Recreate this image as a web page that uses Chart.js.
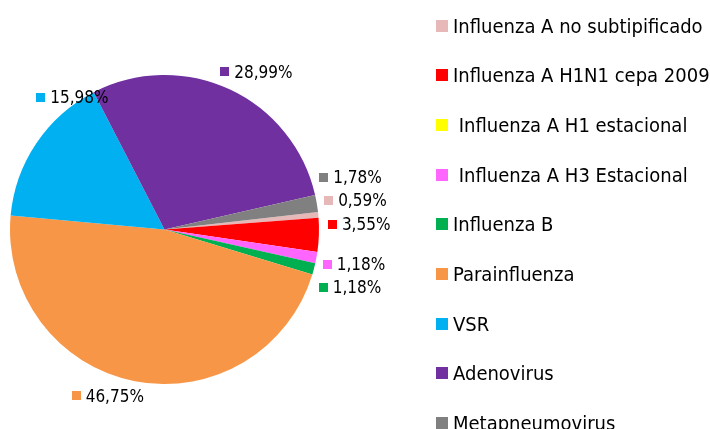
<!DOCTYPE html>
<html>
<head>
<meta charset="utf-8">
<script src="https://cdn.jsdelivr.net/npm/chart.js@4.4.1/dist/chart.umd.min.js"></script>
<style>
    html, body { margin: 0; padding: 0; background: #fff; }
    #wrap { width: 710px; height: 429px; }
</style>
</head>
<body>
<div id="wrap"><canvas id="pie" width="710" height="429"></canvas></div>
<script>
// Virus respiratorios - distribución porcentual

const categorias = [
    'Influenza A no subtipificado',
    'Influenza A H1N1 cepa 2009',
    ' Influenza A H1 estacional',
    ' Influenza A H3 Estacional',
    'Influenza B',
    'Parainfluenza',
    'VSR',
    'Adenovirus',
    'Metapneumovirus'
];

const porcentajes = [0.59, 3.55, 0, 1.18, 1.18, 46.75, 15.98, 28.99, 1.78];

const colores = [
    '#e6b9b8', // rosa
    '#ff0000', // rojo
    '#ffff00', // amarillo
    '#ff66ff', // magenta
    '#00b050', // verde
    '#f79646', // naranja
    '#00b0f0', // celeste
    '#7030a0', // morado
    '#808080'  // gris
];

// corrimiento de cada etiqueta respecto a su punto sobre el borde (dx, dy)
const ajusteEtiquetas = [[0, -13], [3, -11], [0, 0], [1, 4], [0, 15], [-19, 1], [71, -38], [9, -5], [-3, -24]];

const FUENTE = '"DejaVu Sans Condensed", "DejaVu Sans", sans-serif';

const formatoPct = (v) => v.toFixed(2).replace('.', ',') + '%';

// etiquetas de porcentaje con su cuadradito de color
const etiquetasPlugin = {
    id: 'etiquetas',
    afterDatasetsDraw(chart) {
        const ctx = chart.ctx;
        const meta = chart.getDatasetMeta(0);
        ctx.save();
        ctx.font = '17px ' + FUENTE;
        ctx.textBaseline = 'middle';
        meta.data.forEach((arc, i) => {
            const valor = porcentajes[i];
            if (!valor) return;
            const p = arc.getProps(['x', 'y', 'startAngle', 'endAngle', 'outerRadius'], true);
            const mid = (p.startAngle + p.endAngle) / 2;
            const cos = Math.cos(mid), sin = Math.sin(mid);
            const ax = p.x + (p.outerRadius + 6) * cos;
            const ay = p.y + (p.outerRadius + 6) * sin;
            const texto = formatoPct(valor);
            const w = 14 + ctx.measureText(texto).width;
            const left = ax - w * (1 - cos) / 2 + ajusteEtiquetas[i][0];
            const cy = ay + 8 * sin + ajusteEtiquetas[i][1];
            ctx.fillStyle = colores[i];
            ctx.fillRect(Math.round(left), Math.round(cy - 4.5), 9, 9);
            ctx.fillStyle = '#000';
            ctx.fillText(texto, left + 14, cy + 1.5);
        });
        ctx.restore();
    }
};

// leyenda vertical a la derecha
const leyendaPlugin = {
    id: 'leyenda',
    afterDraw(chart) {
        const ctx = chart.ctx;
        ctx.save();
        ctx.font = '20px ' + FUENTE;
        ctx.textBaseline = 'alphabetic';
        categorias.forEach((nombre, i) => {
            const cy = 25.5 + i * 49.7;
            ctx.fillStyle = colores[i];
            ctx.fillRect(436, Math.round(cy - 6), 12, 12);
            ctx.fillStyle = '#000';
            ctx.fillText(nombre, 453, cy + 7);
        });
        ctx.restore();
    }
};

new Chart(document.getElementById('pie'), {
    type: 'pie',
    data: {
        labels: categorias,
        datasets: [{
            data: porcentajes,
            backgroundColor: colores,
            borderWidth: 0
        }]
    },
    options: {
        responsive: false,
        animation: false,
        rotation: 83.5,
        layout: {
            padding: { left: 10, right: 391, top: 75, bottom: 45 }
        },
        plugins: {
            legend: { display: false },
            tooltip: { enabled: false }
        }
    },
    plugins: [etiquetasPlugin, leyendaPlugin]
});
</script>
</body>
</html>
